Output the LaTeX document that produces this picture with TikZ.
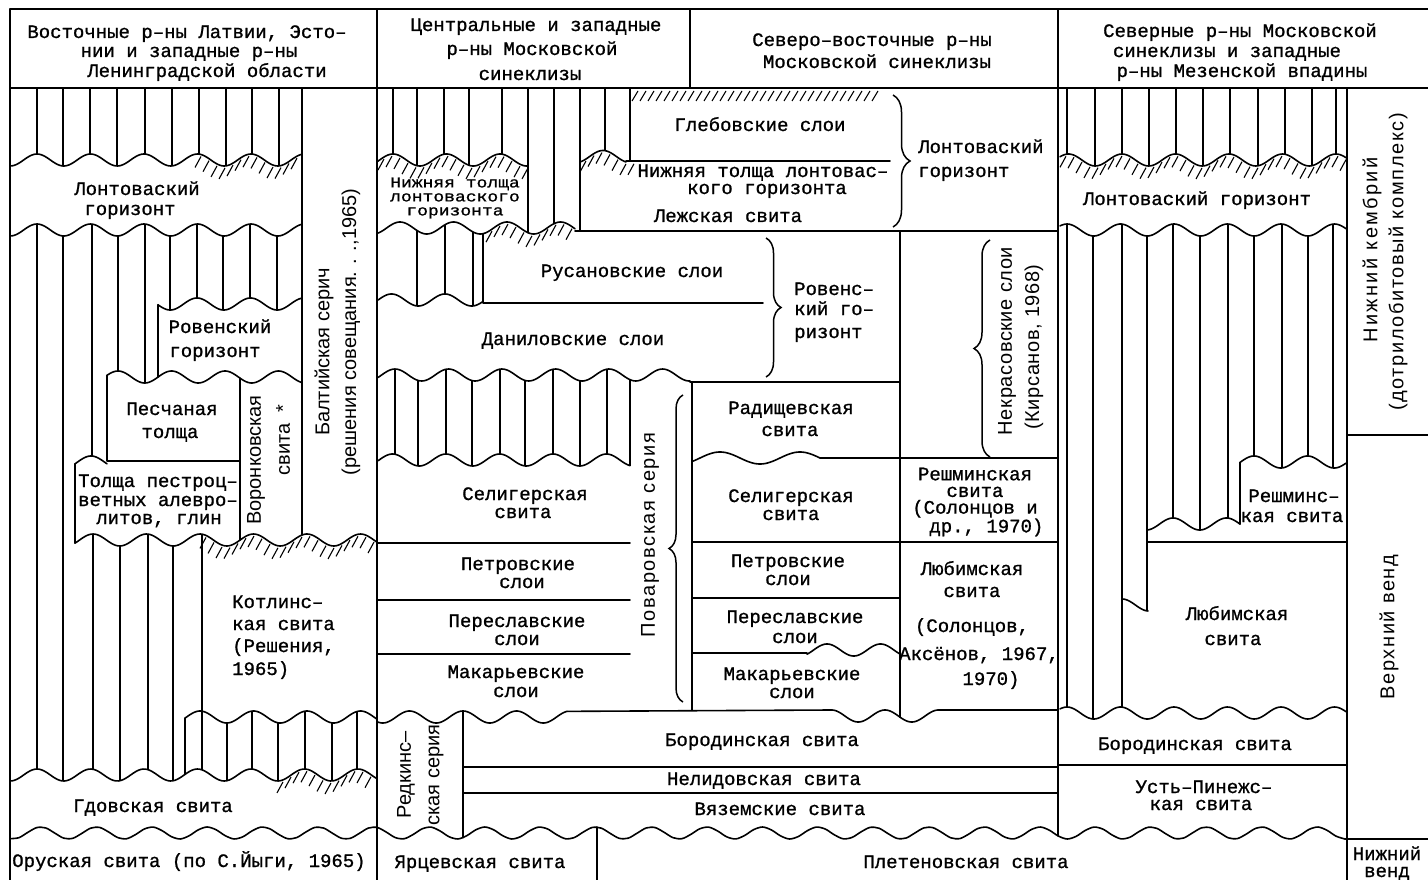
\documentclass[tikz,border=0pt]{standalone}
\usepackage{fontspec}
\setmainfont{Liberation Mono}[FakeBold=1]
\newfontfamily\sansf{Liberation Sans}
\usetikzlibrary{decorations.pathreplacing}
\tikzset{
 ln/.style={line width=1.6pt, line join=round, line cap=round},
 vl/.style={line width=1.3pt},
 hl/.style={line width=1.1pt},
 br/.style={line width=1.5pt, decorate, decoration={brace, amplitude=#1}},
 tx/.style={font=\fontsize{19}{21}\selectfont, inner sep=0pt, anchor=base},
 txb/.style={inner sep=0pt, align=center},
 txw/.style={tx, anchor=base west},
 rx/.style={font=\sansf\fontsize{20}{22}\selectfont, inner sep=0pt, rotate=90},
}
\def\A{6}
\def\P{53.5}
\newcommand{\wy}[3]{(#2)-\A*cos(((#1)-(#3))/\P*360)}
\newcommand{\wave}[4]{\draw[ln] plot[domain=#1:#2, samples=150, smooth, variable=\t] (\t,{\wy{\t}{#3}{#4}});}
\newcommand{\hw}[4]{%
  \pgfmathsetmacro\hsa{#1+6}\pgfmathsetmacro\hsb{#1+14}%
  \foreach \h in {\hsa,\hsb,...,#2}{\draw[hl] (\h,{\wy{\h}{#3}{#4}+2}) -- ({\h-6},{\wy{\h}{#3}{#4}+13});}}
\newcommand{\hstr}[3]{%
  \pgfmathsetmacro\hsa{#1+6}\pgfmathsetmacro\hsb{#1+14}%
  \foreach \h in {\hsa,\hsb,...,#2}{\draw[hl] (\h,{#3+2}) -- ({\h-6},{#3+12});}}
\newcommand{\vw}[4]{\draw[vl] (#1,#2) -- (#1,{\wy{#1}{#3}{#4}});}
\newcommand{\vww}[5]{\draw[vl] (#1,{\wy{#1}{#2}{#3}}) -- (#1,{\wy{#1}{#4}{#5}});}
\newcommand{\lsp}[1]{\addfontfeature{LetterSpace=#1}}
\begin{document}
\begin{tikzpicture}[x=1pt,y=-1pt]
\useasboundingbox (0,0) rectangle (1428,880);
\fill[white] (0,0) rectangle (1428,880);
% ---------- frame ----------
\draw[ln] (10,9) -- (1428,9);
\draw[ln] (10,88) -- (1428,88);
\draw[ln] (10,9) -- (10,880);
\draw[ln] (377,9) -- (377,880);
\draw[ln] (690,9) -- (690,88);
\draw[ln] (1347,88) -- (1347,880);
\draw[ln] (1347,435) -- (1428,435);
\draw[ln] (1345,839) -- (1428,839);
% ---------- column 1 ----------
\draw[ln] (302,88) -- (302,{\wy{302}{540}{93}});
\wave{10}{302}{160}{37}
\hw{195}{300}{160}{37}
\foreach \q in {37,63,90,117,145,172,199,226,252,279}{\vw{\q}{88}{160}{37}}
\wave{10}{302}{230}{37}
\foreach \q in {37,63}{\vww{\q}{230}{37}{775}{37}}
\vww{92}{230}{37}{462}{91}
\foreach \q in {118,145}{\vww{\q}{230}{37}{377}{118}}
\foreach \q in {170,197,223,250,277}{\vww{\q}{230}{37}{304}{197}}
\wave{158}{302}{304}{197}
\draw[ln] (158,{\wy{158}{304}{197}}) -- (158,{\wy{158}{377}{118}});
\wave{107}{302}{377}{118}
\draw[ln] (107,{\wy{107}{377}{118}}) -- (107,461) -- (240,461);
\wave{75}{107}{462}{91}
\draw[ln] (75,{\wy{75}{462}{91}}) -- (75,{\wy{75}{540}{93}});
\draw[ln] (240,{\wy{240}{377}{118}}) -- (240,{\wy{240}{540}{93}});
\wave{75}{377}{540}{93}
\hw{200}{377}{540}{93}
\foreach \q in {93,120,148,173,202}{\vww{\q}{540}{93}{775}{37}}
\wave{185}{377}{717}{200}
\draw[ln] (185,{\wy{185}{717}{200}}) -- (185,{\wy{185}{775}{37}});
\foreach \q in {227,252,278,305,332,357}{\vww{\q}{717}{200}{775}{37}}
\wave{10}{377}{775}{37}
\hw{277}{377}{775}{37}
% ---------- columns 2-3 ----------
\foreach \q in {393,417,444,469,502}{\vw{\q}{88}{160}{393}}
\wave{378}{528}{160}{393}
\hw{378}{528}{160}{393}
\draw[ln] (528,88) -- (528,{\wy{528}{228}{400}});
\draw[ln] (554,88) -- (554,{\wy{554}{228}{400}});
\draw[ln] (580,88) -- (580,231);
\vw{605}{88}{156.5}{603}
\draw[ln] (630,88) -- (630,161);
\hstr{632}{885}{89}
\wave{580}{626}{156.5}{603}
\hw{580}{634}{156.5}{603}
\draw[ln] (626,161) -- (890,161);
\wave{378}{575}{228}{400}
\hw{486}{575}{228}{400}
\foreach \q in {417,445,473}{\vww{\q}{228}{400}{300}{445}}
\wave{378}{483}{300}{445}
\draw[ln] (483,{\wy{483}{228}{400}}) -- (483,303) -- (763,303);
\draw[ln] (575,231) -- (1058,231);
\wave{378}{690}{375}{395}
\draw[ln] (690,382) -- (900,382);
\foreach \q in {395,418,446,472,500,525,553,580,607}{\vww{\q}{375}{395}{460}{446}}
\draw[ln] (630,{\wy{630}{375}{395}}) -- (630,{\wy{630}{460}{446}});
\wave{378}{630}{460}{446}
\draw[ln] (378,543) -- (630,543);
\draw[ln] (378,600) -- (630,600);
\draw[ln] (378,654) -- (630,654);
\wave{378}{567}{717}{463}
\draw[ln] (567,{\wy{567}{717}{463}}) -- (831.5,710);
\wave{831.5}{938.5}{716}{885}
\draw[ln] (938.5,710) -- (1058,710);
\draw[ln] (463,767) -- (1058,767);
\draw[ln] (463,793) -- (1058,793);
\draw[ln] (692,382) -- (692,710);
{\def\P{80}\wave{692}{820}{458}{720}}
\draw[ln] (820,458) -- (1058,458);
\draw[ln] (692,542) -- (1058,542);
\draw[ln] (692,598) -- (900,598);
\draw[ln] (692,653) -- (807,653);
\wave{807}{900}{650}{827}
\draw[ln] (900,231) -- (900,{\wy{900}{716}{885}});
% ---------- column 4 ----------
\foreach \q in {1067,1095,1122,1149,1176,1203,1230,1258,1285,1312,1336}{\vw{\q}{88}{160}{1122}}
\wave{1060}{1346}{160}{1122}
\hw{1060}{1346}{160}{1122}
\wave{1060}{1346}{230}{1067}
\foreach \q in {1067,1093,1122}{\vww{\q}{230}{1067}{713}{1067}}
\vww{1147}{230}{1067}{605}{1122}
\wave{1122}{1148}{605}{1122}
\foreach \q in {1173,1200,1228}{\vww{\q}{230}{1067}{524}{1173}}
\wave{1147}{1240}{524}{1173}
\foreach \q in {1254,1282,1308,1333}{\vww{\q}{230}{1067}{462}{1254}}
\wave{1240}{1346}{462}{1254}
\draw[ln] (1240,{\wy{1240}{462}{1254}}) -- (1240,{\wy{1240}{524}{1173}});
\draw[ln] (1147,542) -- (1347,542);
\wave{1060}{1346}{713}{1067}
\draw[ln] (1058,765) -- (1347,765);
% ---------- bottom wave ----------
{\def\P{55.5}
\wave{10}{1345}{833}{1317.25}
\draw[ln] (1058,9) -- (1058,{\wy{1058}{833}{1317.25}});
\draw[ln] (463,711) -- (463,{\wy{463}{833}{1317.25}});
\draw[ln] (597,{\wy{597}{833}{1317.25}}) -- (597,880);
}
% ---------- braces ----------
\draw[br=17pt] (893,95) -- (893,227);
\draw[br=15pt] (766,238) -- (766,377);
\draw[br=14pt] (683,702) -- (683,395);
\draw[br=16pt] (990,457) -- (990,240);
% ---------- headers ----------
\node[tx] (t1) at (187,38) {Восточные р–ны Латвии, Эсто–};
\node[tx] (t2) at (189,57) {нии и западные р–ны};
\node[tx] (t3) at (207,77) {Ленинградской области};
\node[tx] (t4) at (536,31) {Центральные и западные};
\node[tx] (t5) at (532,55) {р–ны Московской};
\node[tx] (t6) at (530,80) {синеклизы};
\node[tx] (t7) at (872,46) {Северо–восточные р–ны};
\node[tx] (t8) at (877,68) {Московской синеклизы};
\node[tx] (t9) at (1240,37) {Северные р–ны Московской};
\node[tx] (t10) at (1227,57) {синеклизы и западные};
\node[tx] (t11) at (1242,77) {р–ны Мезенской впадины};
% ---------- column 1 texts ----------
\node[tx] (c1) at (137,195) {Лонтоваский};
\node[tx] (c2) at (130,215) {горизонт};
\node[tx] (c3) at (220,333) {Ровенский};
\node[tx] (c4) at (215,357) {горизонт};
\node[tx] (c5) at (172,415) {Песчаная};
\node[tx] (c6) at (170,438) {толща};
\node[tx] (c7) at (158,487) {Толща пестроц–};
\node[tx] (c8) at (158,506) {ветных алевро–};
\node[tx] (c9) at (159,524) {литов, глин};
\node[txw] (c10) at (232,608) {Котлинс–};
\node[txw] (c11) at (232,630) {кая свита};
\node[txw] (c12) at (232,652) {(Решения,};
\node[txw] (c13) at (232,675) {1965)};
\node[tx] (c14) at (153,812) {Гдовская свита};
\node[tx] (c15) at (189,867) {Оруская свита (по С.Йыги, 1965)};
% ---------- columns 2-3 texts ----------
\node[txb, font=\fontsize{15}{14}\selectfont\addfontfeature{FakeStretch=1.2}] (m1) at (455,198) {Нижняя толща\\лонтоваского\\горизонта};
\node[tx] (m4) at (760,131) {Глебовские слои};
\node[tx] (m5) at (763,177) {Нижняя толща лонтовас–};
\node[tx] (m6) at (767,194) {кого горизонта};
\node[tx] (m7) at (728,222) {Лежская  свита};
\node[txw] (m8) at (918,153) {Лонтоваский};
\node[txw] (m9) at (918,177) {горизонт};
\node[tx] (m10) at (632,277) {Русановские слои};
\node[tx] (m11) at (573,345) {Даниловские слои};
\node[txw] (m12) at (794,295) {Ровенс–};
\node[txw] (m13) at (794,315) {кий го–};
\node[txw] (m14) at (794,338) {ризонт};
\node[tx] (m15) at (525,500) {Селигерская};
\node[tx] (m16) at (523,518) {свита};
\node[tx] (m17) at (518,570) {Петровские};
\node[tx] (m18) at (522,588) {слои};
\node[tx] (m19) at (517,627) {Переславские};
\node[tx] (m20) at (517,645) {слои};
\node[tx] (m21) at (516,678) {Макарьевские};
\node[tx] (m22) at (516,697) {слои};
\node[tx] (m23) at (791,414) {Радищевская};
\node[tx] (m24) at (790,436) {свита};
\node[tx] (m25) at (791,502) {Селигерская};
\node[tx] (m26) at (791,520) {свита};
\node[tx] (m27) at (788,567) {Петровские};
\node[tx] (m28) at (788,585) {слои};
\node[tx] (m29) at (795,623) {Переславские};
\node[tx] (m30) at (795,643) {слои};
\node[tx] (m31) at (792,680) {Макарьевские};
\node[tx] (m32) at (792,698) {слои};
\node[txb, font=\fontsize{19}{16.7}\selectfont] (m33) at (975,502) {Решминская\\свита\\(Солонцов и\\\ \ др., 1970)};
\node[tx] (m37) at (972,575) {Любимская};
\node[tx] (m38) at (972,597) {свита};
\node[tx] (m39) at (972,632) {(Солонцов,};
\node[tx] (m40) at (979,660) {Аксёнов, 1967,};
\node[tx] (m41) at (991,685) {1970)};
\node[tx] (m42) at (762,746) {Бородинская свита};
\node[tx] (m43) at (764,785) {Нелидовская свита};
\node[tx] (m44) at (780,815) {Вяземские  свита};
\node[tx] (m45) at (480,868) {Ярцевская  свита};
\node[tx] (m46) at (966,868) {Плетеновская свита};
% ---------- column 4 texts ----------
\node[tx] (e1) at (1197,205) {Лонтоваский горизонт};
\node[tx] (e2) at (1294,502) {Решминс–};
\node[tx] (e3) at (1292,522) {кая свита};
\node[tx] (e4) at (1237,620) {Любимская};
\node[tx] (e5) at (1233,645) {свита};
\node[tx] (e6) at (1195,750) {Бородинская  свита};
\node[tx] (e7) at (1204,793) {Усть–Пинежс–};
\node[tx] (e8) at (1201,810) {кая свита};
\node[tx] (e9) at (1387,860) {Нижний};
\node[tx] (e10) at (1387,877) {венд};
% ---------- rotated texts ----------
\node[rx] (r1) at (324,352) {Балтийская серич};
\node[rx] (r2) at (351,332) {(решения совещания. . .,1965)};
\node[rx] (r3) at (256,460) {Воронковская};
\node[rx] (r4) at (283,440) {свита\ \ *};
\node[rx] (r5) at (650,535) {\lsp{8}Поваровская серия};
\node[rx] (r6) at (406,775) {Редкинс–};
\node[rx] (r7) at (436,775) {ская серия};
\node[rx] (r8) at (1007,341) {\lsp{3}Некрасовские слои};
\node[rx] (r9) at (1034,347) {\lsp{3}(Кирсанов, 1968)};
\node[rx] (r10) at (1372,250) {\lsp{12}Нижний кембрий};
\node[rx] (r11) at (1398,262) {\lsp{8}(дотрилобитовый комплекс)};
\node[rx] (r12) at (1389,627) {\lsp{8}Верхний венд};
\end{tikzpicture}
\end{document}
